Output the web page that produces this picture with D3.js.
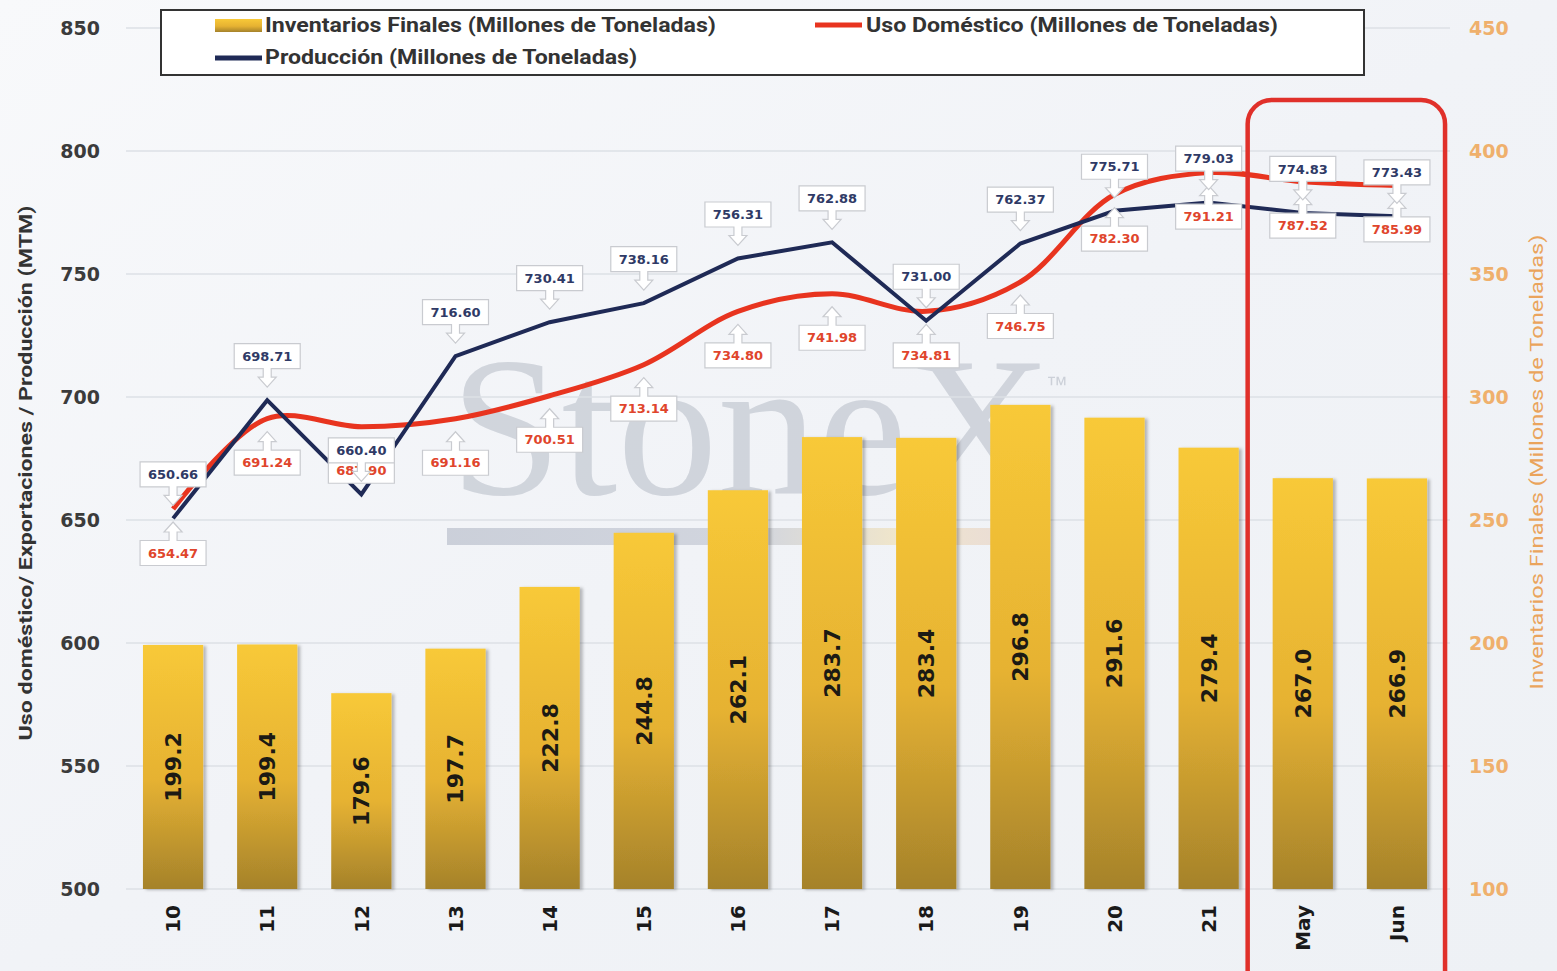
<!DOCTYPE html>
<html>
<head>
<meta charset="utf-8">
<script src="https://cdn.jsdelivr.net/npm/d3@7"></script>
<style>
  html, body { margin: 0; padding: 0; background: #f3f5f8; }
  svg { display: block; }
</style>
</head>
<body>
<svg id="chart" width="1557" height="971"></svg>
<script>
// ---------------- DATA ----------------
const categories = ["10","11","12","13","14","15","16","17","18","19","20","21","May","Jun"];
const inventarios = [199.2,199.4,179.6,197.7,222.8,244.8,262.1,283.7,283.4,296.8,291.6,279.4,267.0,266.9];
const usoDomestico = [654.47,691.24,687.90,691.16,700.51,713.14,734.80,741.98,734.81,746.75,782.30,791.21,787.52,785.99];
const produccion = [650.66,698.71,660.40,716.60,730.41,738.16,756.31,762.88,731.00,762.37,775.71,779.03,774.83,773.43];
const leftTicks = [500,550,600,650,700,750,800,850];
const rightTicks = [100,150,200,250,300,350,400,450];
const legendLabels = ["Inventarios Finales (Millones de Toneladas)","Uso Doméstico (Millones de Toneladas)","Producción (Millones de Toneladas)"];
const leftTitle = "Uso doméstico/ Exportaciones / Producción (MTM)";
const rightTitle = "Inventarios Finales (Millones de Toneladas)";
const highlighted = ["May","Jun"];

// ---------------- SETUP ----------------
const svg = d3.select("#chart");
const W = 1557, H = 971;
const plotL = 126, plotR = 1444, plotT = 28, plotB = 889;
const x = d3.scaleBand().domain(categories).range([plotL, plotR]).paddingInner(0.36).paddingOuter(0.18);
const yL = d3.scaleLinear().domain([500, 850]).range([plotB, plotT]);
const yR = d3.scaleLinear().domain([100, 450]).range([plotB, plotT]);
const cx = c => x(c) + x.bandwidth() / 2;

const defs = svg.append("defs");
const bg = defs.append("linearGradient").attr("id","bg").attr("x1",0).attr("y1",0).attr("x2",1).attr("y2",1);
bg.append("stop").attr("offset","0%").attr("stop-color","#f8f9fb");
bg.append("stop").attr("offset","50%").attr("stop-color","#f1f3f7");
bg.append("stop").attr("offset","100%").attr("stop-color","#eef1f5");
const bar = defs.append("linearGradient").attr("id","barGrad").attr("x1",0).attr("y1",0).attr("x2",0).attr("y2",1);
bar.append("stop").attr("offset","0%").attr("stop-color","#f8c938");
bar.append("stop").attr("offset","55%").attr("stop-color","#e6b232");
bar.append("stop").attr("offset","100%").attr("stop-color","#a5822b");
const wm = defs.append("linearGradient").attr("id","wmBar").attr("x1",0).attr("y1",0).attr("x2",1).attr("y2",0);
wm.append("stop").attr("offset","0%").attr("stop-color","#c4c9d4");
wm.append("stop").attr("offset","55%").attr("stop-color","#ccd0da");
wm.append("stop").attr("offset","80%").attr("stop-color","#efe3c4");
wm.append("stop").attr("offset","100%").attr("stop-color","#e9d9d0");
const shadow = defs.append("filter").attr("id","shadow").attr("x","-10%").attr("y","-10%").attr("width","130%").attr("height","130%");
shadow.append("feDropShadow").attr("dx",3).attr("dy",1).attr("stdDeviation",1.5).attr("flood-color","#000").attr("flood-opacity",0.25);

// background
svg.append("rect").attr("width",W).attr("height",H).attr("fill","url(#bg)");

// watermark (logo, drawn faintly behind the chart)
svg.append("text").attr("x",450).attr("y",494)
  .attr("font-family","'Liberation Serif', 'DejaVu Serif', serif").attr("font-size",200)
  .attr("fill","#c3c8d1").attr("opacity",0.7).attr("textLength",602).attr("lengthAdjust","spacingAndGlyphs")
  .text("StoneX");
svg.append("text").attr("x",1046).attr("y",392).attr("font-family","'Liberation Sans', sans-serif")
  .attr("font-size",22).attr("fill","#c3c8d1").attr("opacity",0.8).text("™");
svg.append("rect").attr("x",447).attr("y",528).attr("width",560).attr("height",17).attr("fill","url(#wmBar)").attr("opacity",0.85);

// gridlines
svg.append("g").selectAll("line").data(leftTicks).join("line")
  .attr("x1",plotL).attr("x2",plotR+6).attr("y1",d=>yL(d)).attr("y2",d=>yL(d))
  .attr("stroke","#dde0e6").attr("stroke-width",1.5);

// bars
svg.append("g").selectAll("rect").data(categories).join("rect")
  .attr("x",c=>x(c)).attr("width",x.bandwidth())
  .attr("y",(c,i)=>yR(inventarios[i])).attr("height",(c,i)=>plotB - yR(inventarios[i]))
  .attr("fill","url(#barGrad)").attr("filter","url(#shadow)");

// bar labels
svg.append("g").selectAll("text").data(categories).join("text")
  .attr("transform",(c,i)=>`translate(${cx(c)},${(yR(inventarios[i])+plotB)/2}) rotate(-90)`)
  .attr("text-anchor","middle").attr("dy","0.36em")
  .attr("font-family","'DejaVu Sans', sans-serif").attr("font-weight","bold").attr("font-size",22)
  .attr("fill","#1c1a14")
  .text((c,i)=>inventarios[i].toFixed(1));

// lines
const redLine = d3.line().x((d,i)=>cx(categories[i])).y(d=>yL(d)).curve(d3.curveCatmullRom.alpha(0.5));
const blueLine = d3.line().x((d,i)=>cx(categories[i])).y(d=>yL(d));
svg.append("path").datum(usoDomestico).attr("d",redLine).attr("fill","none")
  .attr("stroke","#e8341f").attr("stroke-width",5).attr("stroke-linejoin","round");
svg.append("path").datum(produccion).attr("d",blueLine).attr("fill","none")
  .attr("stroke","#1f2a56").attr("stroke-width",4).attr("stroke-linejoin","miter");

// data labels
function callout(above) {
  const s = above ? 1 : -1;
  const p = [[-33,-12.5*s],[33,-12.5*s],[33,12.5*s],[4,12.5*s],[4,21*s],[9,21*s],[0,31*s],[-9,21*s],[-4,21*s],[-4,12.5*s],[-33,12.5*s]];
  return "M" + p.map(q=>q.join(",")).join("L") + "Z";
}
function drawLabels(values, above, color) {
  const g = svg.append("g").selectAll("g").data(categories).join("g")
    .attr("transform",(c,i)=>`translate(${cx(c)},${yL(values[i]) + (above ? -44 : 44)})`);
  g.append("path").attr("d",callout(above)).attr("fill","#ffffff").attr("stroke","#c9cbd0").attr("stroke-width",1.2);
  g.append("text").attr("text-anchor","middle").attr("dy","0.36em")
    .attr("font-family","'DejaVu Sans', sans-serif").attr("font-weight","bold").attr("font-size",13)
    .attr("fill",color).text((c,i)=>values[i].toFixed(2));
}
drawLabels(usoDomestico, false, "#e0452c");
drawLabels(produccion, true, "#2f3a66");

// axes
const axL = svg.append("g").attr("transform",`translate(100,0)`)
  .call(d3.axisLeft(yL).tickValues(leftTicks).tickSize(0).tickPadding(0).tickFormat(d3.format("d")));
axL.select(".domain").remove();
axL.selectAll("text").attr("font-family","'DejaVu Sans', sans-serif").attr("font-weight","bold")
  .attr("font-size",19).attr("fill","#3b3b3b");

const axR = svg.append("g").attr("transform",`translate(1469,0)`)
  .call(d3.axisRight(yR).tickValues(rightTicks).tickSize(0).tickPadding(0).tickFormat(d3.format("d")));
axR.select(".domain").remove();
axR.selectAll("text").attr("font-family","'DejaVu Sans', sans-serif").attr("font-weight","bold")
  .attr("font-size",19).attr("fill","#efb06c");

const axB = svg.append("g").attr("transform",`translate(0,${plotB})`)
  .call(d3.axisBottom(x).tickSize(0));
axB.select(".domain").remove();
axB.selectAll("text").attr("transform","rotate(-90)").attr("x",-16).attr("y",0).attr("dy","0.36em")
  .attr("text-anchor","end").attr("font-family","'DejaVu Sans', sans-serif").attr("font-weight","bold")
  .attr("font-size",20).attr("fill","#1a1a1a");

// axis titles
svg.append("text").attr("transform","translate(25,473) rotate(-90)").attr("text-anchor","middle").attr("dy","0.36em")
  .attr("font-family","'Liberation Sans Narrow', 'Roboto', sans-serif").attr("font-weight","bold").attr("font-size",19)
  .attr("fill","#333").attr("textLength",535).attr("lengthAdjust","spacingAndGlyphs").text(leftTitle);
svg.append("text").attr("transform","translate(1537,462) rotate(-90)").attr("text-anchor","middle").attr("dy","0.36em")
  .attr("font-family","'Liberation Sans Narrow', 'Roboto', sans-serif").attr("font-size",18)
  .attr("fill","#eaa45c").attr("textLength",455).attr("lengthAdjust","spacingAndGlyphs").text(rightTitle);

// legend
const lg = svg.append("g");
lg.append("rect").attr("x",161).attr("y",10).attr("width",1203).attr("height",65)
  .attr("fill","#ffffff").attr("stroke","#333").attr("stroke-width",2);
lg.append("rect").attr("x",215).attr("y",19).attr("width",47).attr("height",13).attr("fill","url(#barGrad)");
lg.append("line").attr("x1",815).attr("x2",862).attr("y1",25).attr("y2",25).attr("stroke","#e8341f").attr("stroke-width",5);
lg.append("line").attr("x1",215).attr("x2",262).attr("y1",58).attr("y2",58).attr("stroke","#1f2a56").attr("stroke-width",5);
const legPos = [[265,25,451],[866,25,412],[265,57,372]];
lg.selectAll("text.leg").data(legendLabels).join("text").attr("class","leg")
  .attr("x",(d,i)=>legPos[i][0]).attr("y",(d,i)=>legPos[i][1]).attr("dy","0.36em")
  .attr("font-family","'Liberation Sans Narrow', 'Roboto', sans-serif").attr("font-weight","bold").attr("font-size",20)
  .attr("fill","#333").attr("textLength",(d,i)=>legPos[i][2]).attr("lengthAdjust","spacingAndGlyphs").text(d=>d);

// highlight box
const hx0 = x(highlighted[0]) - 25, hx1 = x(highlighted[highlighted.length-1]) + x.bandwidth() + 18;
svg.append("rect").attr("x",hx0).attr("y",100).attr("width",hx1-hx0).attr("height",900)
  .attr("rx",24).attr("ry",24).attr("fill","none").attr("stroke","#e0302a").attr("stroke-width",4.5);
</script>
</body>
</html>
